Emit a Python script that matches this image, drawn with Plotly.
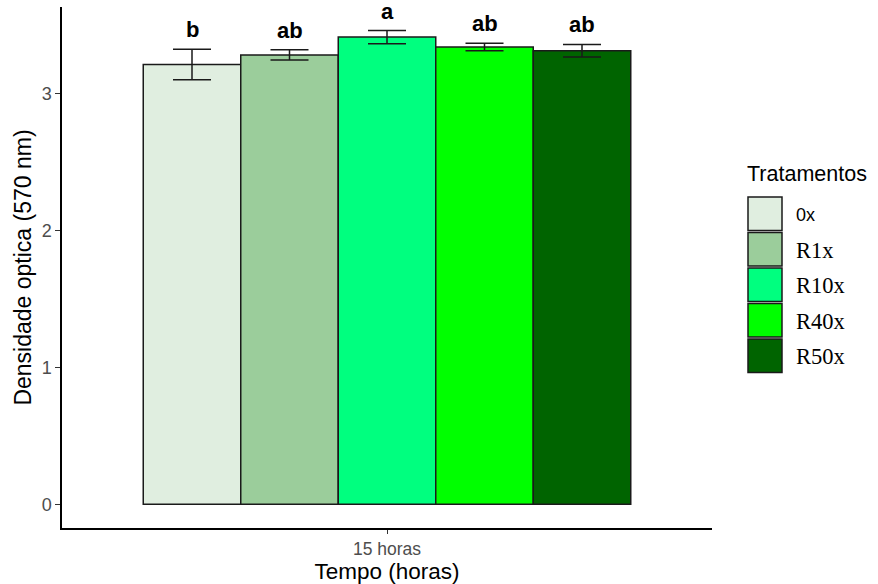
import plotly.graph_objects as go

# Optical density at 15 h per treatment (mean and standard error)
tratamentos = ["0x", "R1x", "R10x", "R40x", "R50x"]
medias = [3.215, 3.285, 3.415, 3.343, 3.315]
erros = [0.112, 0.038, 0.048, 0.027, 0.046]
letras = ["b", "ab", "a", "ab", "ab"]
cores = ["#E0EEE0", "#9BCD9B", "#00FF7F", "#00FF00", "#006400"]
tempo = ["15 horas"]

W, H = 878, 584
ML, MR, MT, MB = 62, 166, 7, 56
PW, PH = W - ML - MR, H - MT - MB

fig = go.Figure()
for nome, m, e, c in zip(tratamentos, medias, erros, cores):
    fig.add_trace(go.Bar(
        x=tempo, y=[m], name=nome,
        marker=dict(color=c, line=dict(color="#1a1a1a", width=1.5)),
        error_y=dict(type="data", array=[e], color="#1a1a1a", thickness=1.5, width=19),
        showlegend=False,
    ))

# Significance letters above each error bar
n = len(tratamentos)
dodge = 0.9 / n
for i, (m, e, letra) in enumerate(zip(medias, erros, letras)):
    fig.add_annotation(
        x=(i - (n - 1) / 2) * dodge, y=m + e, xref="x", yref="y",
        text=f"<b>{letra}</b>", showarrow=False, yanchor="bottom", yshift=5,
        font=dict(family="Liberation Sans, Arial", size=22, color="black"),
    )

# Legend drawn as large filled keys
def px_x(p):
    return (p - ML) / PW

def px_y(p):
    return (H - MB - p) / PH

fig.add_annotation(
    x=px_x(745), y=px_y(174), xref="paper", yref="paper", xanchor="left", yanchor="middle",
    text="Tratamentos", showarrow=False,
    font=dict(family="Liberation Sans, Arial", size=21.5, color="black"),
)
key_top, key_h, key_x0, key_x1 = 196, 35.5, 748, 782
for i, (nome, c) in enumerate(zip(tratamentos, cores)):
    y0 = key_top + i * key_h
    fig.add_shape(
        type="rect", xref="paper", yref="paper",
        x0=px_x(key_x0), x1=px_x(key_x1), y0=px_y(y0 + key_h - 1), y1=px_y(y0 + 1),
        fillcolor=c, line=dict(color="#1a1a1a", width=1.5),
    )
    fam = "Liberation Sans, Arial" if i == 0 else "Liberation Serif, Times New Roman"
    size = 18 if i == 0 else 22.5
    fig.add_annotation(
        x=px_x(794), y=px_y(y0 + key_h / 2 + 1), xref="paper", yref="paper",
        xanchor="left", yanchor="middle", text=nome, showarrow=False,
        font=dict(family=fam, size=size, color="black"),
    )

fig.update_layout(
    width=W, height=H,
    margin=dict(l=ML, r=MR, t=MT, b=MB, pad=0),
    barmode="group", bargap=0.1, bargroupgap=0,
    plot_bgcolor="white", paper_bgcolor="white",
    font=dict(family="Liberation Sans, Arial"),
    xaxis=dict(
        range=[-0.6, 0.6], showline=True, linecolor="black", linewidth=1.5,
        ticks="outside", ticklen=4, tickcolor="#333333", tickwidth=1.2,
        tickfont=dict(size=17.5, color="#4D4D4D"), showgrid=False, zeroline=False,
        title=dict(text="Tempo (horas)", font=dict(size=22.5, color="black"), standoff=0),
    ),
    yaxis=dict(
        range=[-0.173, 3.635], tickvals=[0, 1, 2, 3], showline=True, linecolor="black",
        linewidth=1.5, ticks="outside", ticklen=5, tickcolor="#333333", tickwidth=1.2,
        tickfont=dict(size=18, color="#4D4D4D"), showgrid=False, zeroline=False,
        title=dict(text="Densidade optica (570 nm)", font=dict(size=23, color="black"), standoff=4),
    ),
)

fig.write_html("out.html")
